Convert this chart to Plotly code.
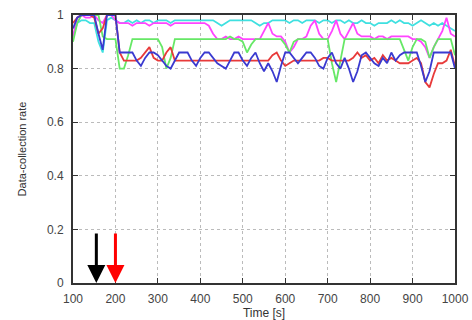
import plotly.graph_objects as go

time_s = list(range(100, 1001, 10))

cyan_rate = [0.92,0.97,0.98,0.98,0.97,0.97,0.90,0.86,0.98,0.99,
             0.98,0.97,0.97,0.98,0.97,0.98,0.97,0.98,0.98,0.97,
             0.98,0.98,0.98,0.97,0.98,0.98,0.98,0.98,0.98,0.98,
             0.98,0.98,0.98,0.98,0.97,0.96,0.97,0.98,0.98,0.98,
             0.98,0.98,0.98,0.97,0.96,0.97,0.97,0.98,0.98,0.98,
             0.98,0.97,0.98,0.98,0.97,0.98,0.98,0.98,0.97,0.98,
             0.98,0.97,0.98,0.98,0.97,0.98,0.97,0.97,0.98,0.97,
             0.97,0.96,0.97,0.97,0.97,0.98,0.97,0.98,0.97,0.97,
             0.96,0.97,0.98,0.97,0.96,0.97,0.96,0.97,0.96,0.95,
             0.94]

magenta_rate = [0.92,0.99,1.00,0.99,0.99,1.00,0.98,0.97,1.00,1.00,
                0.98,0.97,0.97,0.97,0.96,0.97,0.97,0.97,0.96,0.97,
                0.97,0.97,0.97,0.96,0.97,0.97,0.97,0.97,0.97,0.97,
                0.97,0.97,0.96,0.93,0.91,0.91,0.92,0.91,0.91,0.92,
                0.91,0.91,0.91,0.91,0.91,0.94,0.97,0.93,0.92,0.92,
                0.90,0.86,0.88,0.91,0.91,0.92,0.96,0.98,0.93,0.91,
                0.91,0.94,0.98,0.93,0.91,0.94,0.97,0.93,0.92,0.92,
                0.92,0.91,0.92,0.92,0.91,0.92,0.92,0.92,0.92,0.92,
                0.91,0.91,0.90,0.88,0.84,0.88,0.91,0.94,0.99,0.93,
                0.92]

green_rate = [0.90,0.97,1.00,1.00,1.00,1.00,1.00,0.92,0.91,0.91,
              0.91,0.80,0.80,0.85,0.91,0.91,0.91,0.91,0.91,0.91,
              0.91,0.88,0.80,0.84,0.91,0.91,0.91,0.91,0.91,0.91,
              0.91,0.91,0.91,0.91,0.91,0.91,0.91,0.92,0.91,0.91,
              0.90,0.86,0.89,0.91,0.91,0.91,0.91,0.91,0.91,0.91,
              0.89,0.86,0.90,0.91,0.91,0.91,0.91,0.91,0.91,0.91,
              0.91,0.82,0.75,0.83,0.91,0.91,0.91,0.91,0.91,0.91,
              0.91,0.91,0.91,0.91,0.91,0.91,0.91,0.91,0.87,0.83,
              0.88,0.91,0.91,0.90,0.84,0.88,0.91,0.91,0.91,0.91,
              0.85]

red_rate = [0.97,0.99,1.00,1.00,1.00,0.99,0.93,0.95,1.00,1.00,
            1.00,0.86,0.83,0.83,0.83,0.83,0.84,0.86,0.88,0.84,
            0.83,0.83,0.86,0.88,0.83,0.83,0.83,0.83,0.83,0.83,
            0.83,0.83,0.83,0.83,0.83,0.83,0.83,0.83,0.83,0.83,
            0.83,0.83,0.83,0.83,0.83,0.83,0.83,0.85,0.86,0.83,
            0.81,0.82,0.83,0.83,0.83,0.83,0.83,0.83,0.83,0.84,
            0.84,0.83,0.83,0.83,0.83,0.83,0.84,0.86,0.84,0.85,
            0.83,0.84,0.82,0.85,0.83,0.84,0.83,0.82,0.82,0.82,
            0.83,0.84,0.82,0.75,0.73,0.78,0.82,0.82,0.83,0.87,
            0.81]

blue_rate = [0.95,0.99,1.00,1.00,1.00,1.00,0.93,0.87,1.00,1.00,
             1.00,0.86,0.86,0.86,0.86,0.83,0.81,0.84,0.86,0.86,
             0.85,0.83,0.81,0.80,0.83,0.86,0.86,0.86,0.83,0.81,
             0.84,0.86,0.86,0.84,0.82,0.81,0.80,0.83,0.86,0.86,
             0.83,0.81,0.84,0.86,0.82,0.79,0.82,0.79,0.75,0.81,
             0.86,0.86,0.84,0.82,0.84,0.86,0.86,0.84,0.81,0.80,
             0.84,0.86,0.82,0.80,0.84,0.80,0.75,0.79,0.85,0.86,
             0.84,0.82,0.81,0.84,0.82,0.86,0.83,0.85,0.86,0.86,
             0.86,0.86,0.81,0.75,0.79,0.86,0.86,0.86,0.86,0.86,
             0.80]

series = [
    ("cyan", cyan_rate, "#3fe0e0"),
    ("magenta", magenta_rate, "#ff44ff"),
    ("green", green_rate, "#66e866"),
    ("red", red_rate, "#e83a3a"),
    ("blue", blue_rate, "#3a3ad0"),
]

arrow_times = [155, 200]
arrow_colors = ["black", "red"]
arrow_top = 0.19

fig = go.Figure()
for name, vals, col in series:
    fig.add_trace(go.Scatter(x=time_s, y=vals, mode="lines", name=name,
                             line=dict(color=col, width=1.8), showlegend=False))

for t, c in zip(arrow_times, arrow_colors):
    fig.add_annotation(x=t, y=0.0, ax=t, ay=arrow_top, xref="x", yref="y",
                       axref="x", ayref="y", showarrow=True, arrowhead=2,
                       arrowsize=1.2, arrowwidth=3, arrowcolor=c, text="")

font_fam = "Liberation Sans, Arial"
axis_common = dict(showline=True, linecolor="#333333", linewidth=2, mirror="allticks",
                   ticks="inside", ticklen=5, tickcolor="#333333",
                   showgrid=True, gridcolor="#bbbbbb", griddash="dot", gridwidth=1,
                   zeroline=False, automargin=False,
                   tickfont=dict(family=font_fam, size=12, color="#444444"))

fig.update_xaxes(range=[100, 1000], tickvals=list(range(100, 1001, 100)),
                 ticklabelstandoff=4,
                 title=dict(text="Time [s]", font=dict(family=font_fam, size=12, color="#333333"), standoff=2),
                 **axis_common)
fig.update_yaxes(range=[0, 1], tickvals=[0, 0.2, 0.4, 0.6, 0.8, 1],
                 ticktext=["0", "0.2", "0.4", "0.6", "0.8", "1"],
                 ticklabelstandoff=5,
                 title=dict(text="Data-collection rate", font=dict(family=font_fam, size=11, color="#333333"), standoff=18),
                 **axis_common)

fig.update_layout(width=472, height=320, margin=dict(l=73, r=17, t=15, b=37),
                  paper_bgcolor="white", plot_bgcolor="white")

fig.write_html("out.html")
